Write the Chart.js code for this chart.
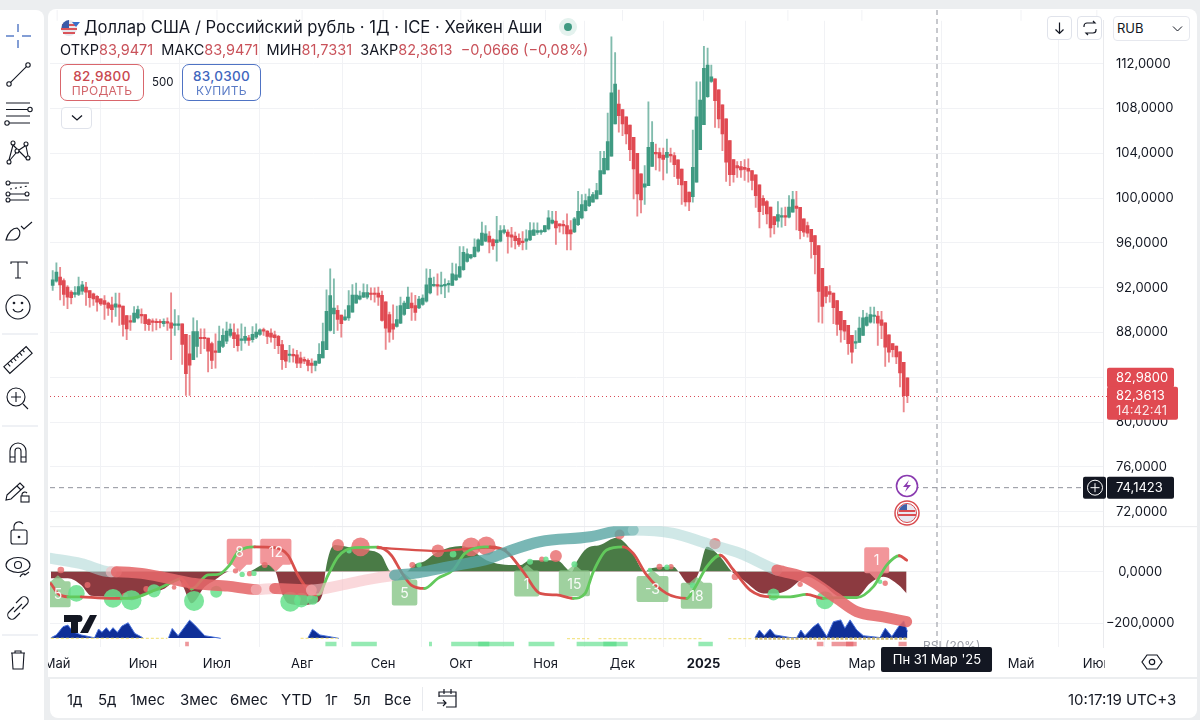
<!DOCTYPE html>
<html>
<head>
<meta charset="utf-8">
<title>USD/RUB</title>
<script src="https://cdn.jsdelivr.net/npm/chart.js"></script>
<style>
    html, body { margin: 0; padding: 0; width: 1200px; height: 720px; overflow: hidden; background: #eceef0; font-family: Inter, "Noto Sans", sans-serif; color: #131722; }
    .t { position: absolute; white-space: nowrap; line-height: 1; }
    .box { position: absolute; box-sizing: border-box; background: #fff; }
    .red { color: #c9525a; }
    #myChart { position: absolute; left: 0; top: 0; z-index: 1; }
    .over { z-index: 3; }
    .btn { position: absolute; box-sizing: border-box; border-radius: 7px; background: #fff; text-align: center; z-index: 3; }
    .btn b { display: block; font-weight: 500; font-size: 13.5px; line-height: 14px; margin-top: 4px; letter-spacing: .3px; }
    .btn span { display: block; font-size: 12px; line-height: 12px; margin-top: 2px; letter-spacing: .3px; opacity: .85; }
    .rng { top: 692px; font-size: 15px; z-index: 3; }
</style>
</head>
<body>
<div class="box" style="left:48px;top:9px;width:1149px;height:668px;border-radius:8px 8px 0 0"></div>
<div class="box" style="left:50px;top:679px;width:1147px;height:39px;border-radius:0 0 8px 8px"></div>
<canvas id="myChart" width="1200" height="720"></canvas>

<!-- strip left of the chart + drawing toolbar -->
<div class="box over" style="left:44px;top:0;width:3.5px;height:678px;background:#eceef0"></div>
<div class="box over" style="left:0;top:10px;width:44px;height:710px;border-radius:0 8px 0 0"></div>
<svg class="over" style="position:absolute;left:0;top:0" width="44" height="720" fill="none" stroke="#131722" stroke-width="1.1">
    <g stroke="#5b7fc7" stroke-width="1.5"><path d="M18 24v8M18 40v8M6 36h8M22 36h9"/></g>
    <circle cx="9" cy="84" r="2.2"/><circle cx="28" cy="65" r="2.2"/><path d="M10.6 82.4 26.4 66.6"/>
    <path d="M6 103h24M6 109.5h22M6 116h24M9 123h21"/><circle cx="30" cy="109.5" r="2.2"/><circle cx="7" cy="123" r="2.2"/>
    <circle cx="13" cy="143" r="2"/><circle cx="26" cy="144" r="2"/><circle cx="17" cy="151" r="2"/><circle cx="9" cy="162" r="2"/><circle cx="28" cy="158" r="2"/>
    <path d="M13 145 9 160M13 145 17 149M19 151 26 158M25 146 19 150M26 146 28 156M10 160 16 153"/>
    <circle cx="8" cy="183" r="2"/><circle cx="8" cy="194" r="2"/><circle cx="8" cy="200" r="2"/><circle cx="27" cy="194" r="2"/>
    <path d="M10 183h19M10 194h15M10 200h19"/><path d="M10 189 28 186" stroke-dasharray="2 3"/>
    <path d="M6 240C8 232 13 228 17 228C22 231 20 239 14 240ZM21 226l3 3 8-7"/>
    <path d="M11 264v-2h16v2M18 262v16M15 278h6"/>
    <circle cx="18" cy="307" r="12"/><path d="M13 309c2 4 8 4 10 0"/><circle cx="14" cy="303" r=".8"/><circle cx="22" cy="303" r=".8"/>
    <path d="M2 334h36M2 426h36M2 635h36" stroke="#e0e3eb"/>
    <g transform="rotate(-42 18 360)"><rect x="3" y="355.5" width="30" height="9"/><path d="M8 355.5v4M12 355.5v3M16 355.5v4M20 355.5v3M24 355.5v4M28 355.5v3"/></g>
    <circle cx="16" cy="397" r="9"/><path d="M16 392v10M11 397h10M23 404l5 5"/>
    <path d="M10 462v-11a8 8 0 0 1 16 0v11h-5v-11a3 3 0 0 0-6 0v11zM10 457h5M21 457h5"/>
    <path d="M7 495 20 483l4 4-13 12-5 1zM17 486l4 4"/><rect x="21" y="496" width="8" height="6"/><path d="M22 496v-2a3 3 0 0 1 5-1"/>
    <rect x="11" y="530" width="16" height="14" rx="2"/><path d="M14 530v-4a5 5 0 0 1 9-2"/><circle cx="19" cy="537" r=".8"/>
    <ellipse cx="18" cy="565" rx="12" ry="7.5"/><circle cx="18" cy="565" r="3.5"/><path d="M20 577c1-3 4-4 5-2l4-3"/>
    <path d="M16 603l5-5a4 4 0 0 1 6 6l-5 5M20 613l-5 5a4 4 0 0 1-6-6l5-5M14 612l8-8"/>
    <path d="M11 653h14M15 653v-2h6v2M12 653l1 16h10l1-16"/>
</svg>

<!-- header -->
<svg class="over" style="position:absolute;left:60px;top:19px" width="22" height="18">
    <circle cx="9" cy="9" r="8" fill="#e8e8ee"/><path d="M2 6h14M1 10h16M3 14h12" stroke="#d9545a" stroke-width="2"/><path d="M1.5 9A8 8 0 0 1 9 1v8z" fill="#3a5aa8"/><path d="M12 3h8l-4 5z" fill="#3a6fc9"/>
</svg>
<div class="t over" style="left:84px;top:19px;font-size:16.6px">Доллар США / Российский рубль · 1Д · ICE · Хейкен Аши</div>
<svg class="over" style="position:absolute;left:558px;top:17px" width="20" height="20"><circle cx="10" cy="10" r="9" fill="#e4f2ee"/><circle cx="10" cy="10" r="4" fill="#3f9a82"/></svg>
<div class="t over" style="left:60px;top:43px;font-size:14.5px">ОТКР<span class="red">83,9471</span>&nbsp; МАКС<span class="red">83,9471</span>&nbsp; МИН<span class="red">81,7331</span>&nbsp; ЗАКР<span class="red">82,3613</span>&nbsp; <span class="red">−0,0666 (−0,08%)</span></div>
<div class="btn" style="left:60px;top:64px;width:84px;height:37px;border:1px solid #d9666c;color:#c9484f"><b>82,9800</b><span>ПРОДАТЬ</span></div>
<div class="t over" style="left:152px;top:77px;font-size:11.5px">500</div>
<div class="btn" style="left:182px;top:64px;width:79px;height:37px;border:1px solid #4f73c4;color:#3f66bd"><b>83,0300</b><span>КУПИТЬ</span></div>
<div class="btn" style="left:61px;top:107px;width:31px;height:22px;border:1px solid #e0e3eb;border-radius:4px"></div>
<svg class="over" style="position:absolute;left:70px;top:114px" width="14" height="8" fill="none" stroke="#131722" stroke-width="1.3"><path d="M2 1.5 7 6l5-4.5"/></svg>

<!-- top right buttons -->
<div class="btn" style="left:1047px;top:16px;width:25px;height:24px;border:1px solid #e0e3eb;border-radius:4px"></div>
<div class="btn" style="left:1077px;top:16px;width:25px;height:24px;border:1px solid #e0e3eb;border-radius:4px"></div>
<svg class="over" style="position:absolute;left:1047px;top:16px" width="56" height="24" fill="none" stroke="#131722" stroke-width="1.2"><path d="M12.5 6.5v11M8.5 13.5l4 4 4-4"/><path d="M37 10a3 3 0 0 1 3-3h8l-2-2M49 14a3 3 0 0 1-3 3h-7l2 2M37 10v1M49 14v-1"/></svg>
<div class="btn" style="left:1113px;top:16px;width:77px;height:25px;border:1px solid #e6e8ee;border-radius:4px"></div>
<div class="t over" style="left:1117px;top:22px;font-size:13px">RUB</div>
<svg class="over" style="position:absolute;left:1172px;top:25px" width="12" height="8" fill="none" stroke="#131722"><path d="M1 1.5 5.5 6 10 1.5"/></svg>

<!-- tv logo -->
<svg class="over" style="position:absolute;left:64px;top:615px" width="33" height="18" fill="#131722"><path d="M0 0h14v18H7V7H0zM26 0h7L24 18h-8zM15 0a3.5 3.5 0 1 1 0 7 3.5 3.5 0 0 1 0-7z"/></svg>

<!-- event markers -->
<svg class="over" style="position:absolute;left:893px;top:474px" width="28" height="54" fill="none">
    <circle cx="14" cy="12" r="10.5" fill="#fff" stroke="#8a3bb0" stroke-width="1.6"/><path d="M16 6l-6 7h4l-2 5 6-7h-4z" fill="#8a3bb0"/>
    <circle cx="14" cy="39" r="12" fill="#fff" stroke="#d94c50" stroke-width="1.5"/><circle cx="14" cy="39" r="9.5" fill="#e9e9f0" stroke="#d94c50"/><path d="M6 37h16M5 41h18" stroke="#d94c50" stroke-width="1.8"/><path d="M14 30a9 9 0 0 0-8 6h8z" fill="#4060a8"/>
</svg>

<!-- time axis corner + bottom bar -->
<div class="box over" style="left:1105px;top:648px;width:92px;height:29px"></div>
<svg class="over" style="position:absolute;left:1141px;top:652px" width="22" height="20" fill="none" stroke="#131722" stroke-width="1.2"><path d="M6 3h10l5 7-5 7H6l-5-7z"/><circle cx="11" cy="10" r="2.7"/></svg>
<div class="t rng" style="left:67px">1д</div>
<div class="t rng" style="left:98px">5д</div>
<div class="t rng" style="left:130px">1мес</div>
<div class="t rng" style="left:180px">3мес</div>
<div class="t rng" style="left:230px">6мес</div>
<div class="t rng" style="left:281px">YTD</div>
<div class="t rng" style="left:325px">1г</div>
<div class="t rng" style="left:353px">5л</div>
<div class="t rng" style="left:384px">Все</div>
<div class="box over" style="left:422px;top:687px;width:1px;height:24px;background:#e8eaee"></div>
<svg class="over" style="position:absolute;left:436px;top:687px" width="24" height="24" fill="none" stroke="#131722" stroke-width="1.2"><path d="M3 10V5h17v15h-10M3 9h17M8 2v5M15 2v5M1 16h9M7 13l3 3-3 3"/></svg>
<div class="t rng" style="left:1068px;font-size:15px">10:17:19 UTC+3</div>

<script>
// 232 daily Heikin Ashi candles
const openPrices = [
    92.20,92.58,92.94,92.64,92.05,91.60,91.39,91.39,91.69,92.05,
    91.75,91.45,91.22,91.01,90.86,90.62,90.47,90.26,90.47,90.35,
    89.52,88.99,88.93,89.31,89.61,89.61,89.16,88.99,88.99,88.99,
    88.78,88.93,88.87,88.63,88.63,88.78,87.83,86.10,85.57,86.76,
    87.53,87.53,87.50,87.00,86.31,86.22,86.76,87.23,87.74,88.00,
    87.80,87.29,87.29,87.53,87.35,87.59,87.83,88.24,88.12,87.94,
    87.80,87.65,86.93,86.40,85.95,86.01,86.01,85.74,85.60,85.51,
    85.27,85.06,85.27,85.74,86.46,88.18,89.67,89.97,89.55,89.13,
    89.31,89.82,90.62,90.98,91.16,91.16,91.51,91.51,91.51,91.31,
    90.74,89.61,88.78,88.54,88.84,89.61,90.12,90.62,90.41,90.20,
    90.50,90.80,91.54,92.17,92.26,92.11,92.17,92.26,92.20,92.70,
    92.94,93.60,94.34,94.67,94.78,95.26,95.80,96.15,96.60,96.30,
    96.03,96.15,96.93,96.96,96.72,96.60,96.42,96.12,96.15,96.27,
    96.66,96.93,96.96,97.00,97.25,97.76,97.94,97.70,97.64,97.55,
    97.16,96.98,97.64,98.23,98.89,99.33,99.63,99.93,100.32,102.16,
    102.52,103.74,106.62,108.40,107.90,107.27,106.53,105.43,104.00,102.16,
    100.97,101.12,102.84,104.09,104.06,103.85,103.64,103.88,103.79,103.41,
    102.60,101.50,100.55,100.14,101.42,104.33,106.56,109.06,110.43,110.66,
    109.68,108.34,107.07,105.13,103.44,102.90,102.81,102.75,102.67,102.46,
    102.07,101.18,99.99,99.69,99.19,98.35,97.94,98.30,98.41,98.30,
    98.74,99.30,99.18,98.14,97.55,97.22,96.66,95.77,93.74,92.11,
    91.66,91.51,90.86,89.88,89.08,88.63,87.74,87.05,87.11,87.74,
    88.63,88.93,89.43,89.46,89.13,88.87,87.80,87.00,86.79,86.28,
    85.33,83.95
];
const highPrices = [
    93.53,94.22,93.83,92.79,92.20,91.75,92.11,92.94,92.58,92.49,
    91.75,91.51,91.30,91.01,91.30,90.71,91.16,91.51,91.51,90.35,
    89.52,89.52,90.32,90.35,90.12,89.61,89.22,89.22,89.22,89.16,
    89.22,89.31,91.54,90.05,89.52,88.78,87.83,87.74,89.31,89.07,
    88.33,88.33,87.50,87.14,87.89,88.57,88.33,88.93,88.78,88.78,
    88.33,88.78,88.48,87.74,88.54,88.78,88.33,88.39,88.18,88.33,
    88.12,87.74,87.29,86.40,86.85,86.55,86.40,86.25,85.80,85.66,
    85.66,85.45,87.00,88.84,91.81,93.68,92.79,90.41,89.55,90.03,
    91.75,92.29,92.41,91.69,92.35,92.29,91.99,91.99,92.05,91.69,
    90.74,89.82,90.47,90.35,91.16,90.80,92.05,91.54,91.31,91.22,
    91.37,93.68,93.65,92.94,93.24,93.39,92.79,92.64,94.19,94.13,
    95.68,95.68,95.47,94.96,96.36,96.36,97.85,97.55,97.02,96.36,
    98.38,97.55,97.55,97.16,97.40,96.96,96.81,97.02,97.16,97.82,
    97.79,97.79,97.16,97.55,98.89,98.83,98.83,97.70,97.99,98.59,
    97.99,98.29,100.61,100.31,100.37,100.82,100.52,101.33,104.18,104.18,
    107.60,114.41,113.00,109.65,107.90,107.27,106.53,105.43,104.00,102.16,
    102.90,108.61,106.83,104.83,104.48,104.48,105.28,104.48,104.06,103.41,
    102.60,101.50,100.55,106.08,110.39,110.39,113.55,113.40,111.88,110.66,
    109.68,108.34,107.07,105.13,103.44,103.26,103.29,103.44,103.50,102.46,
    102.07,101.18,100.23,99.78,99.19,98.35,99.69,99.13,99.19,100.23,
    100.61,100.61,99.18,98.14,97.85,97.22,96.66,95.77,93.74,92.11,
    92.20,91.51,90.86,89.88,89.08,88.63,87.74,88.18,89.37,89.97,
    89.73,90.27,90.27,89.88,89.88,88.87,87.80,87.00,86.79,86.28,
    85.33,83.95
];
const lowPrices = [
    91.75,92.49,90.92,90.41,90.12,90.56,91.16,91.30,91.39,90.41,
    90.26,90.41,89.91,90.41,89.16,89.52,88.93,89.43,88.63,87.68,
    87.35,88.18,88.93,89.22,88.84,88.18,88.18,88.12,88.24,88.42,
    88.54,88.18,85.57,87.74,88.24,85.15,82.39,82.39,85.57,85.80,
    86.10,86.55,84.47,84.76,84.82,86.22,86.64,87.00,87.59,86.64,
    86.34,86.40,87.05,86.85,87.14,87.44,87.74,87.74,87.00,87.14,
    86.55,86.10,84.70,84.85,85.36,85.36,84.85,84.85,85.21,84.56,
    84.38,84.56,85.21,85.74,86.46,88.12,87.89,88.18,87.59,89.07,
    89.07,89.82,90.62,90.92,91.10,91.00,90.92,90.71,90.41,89.02,
    86.49,87.14,87.38,88.48,88.78,89.52,90.12,89.08,89.08,90.12,
    90.41,90.71,91.45,92.11,91.34,91.45,91.10,91.60,92.20,92.64,
    92.88,93.54,94.28,94.58,94.72,95.17,95.77,96.12,95.11,95.41,
    94.37,96.09,96.81,95.08,95.62,95.47,95.68,95.38,95.41,96.21,
    96.66,96.75,96.75,96.96,97.16,97.70,95.86,96.96,96.81,95.38,
    95.38,96.92,97.55,98.14,98.83,99.24,99.63,99.93,100.32,102.16,
    102.52,103.74,106.62,105.88,105.58,104.84,103.35,99.93,98.38,98.68,
    99.43,101.12,102.84,102.52,102.40,101.62,102.22,103.20,101.92,101.21,
    99.43,99.28,98.89,99.63,101.42,104.33,106.56,109.00,110.34,106.32,
    106.26,104.24,101.50,101.12,101.42,101.86,101.86,101.57,101.42,100.73,
    99.18,97.34,98.53,97.70,96.51,96.81,97.40,97.40,97.55,98.23,
    98.74,97.16,96.36,96.57,96.51,94.64,93.24,88.93,88.84,90.65,
    90.71,88.78,87.74,87.14,87.35,86.04,85.27,86.55,87.11,87.74,
    88.57,88.84,88.84,86.85,87.44,84.97,85.36,85.81,85.21,83.13,
    80.90,81.73
];
const closePrices = [
    92.70,93.39,92.26,91.39,91.16,91.10,91.57,92.11,92.26,91.60,
    91.10,91.01,90.71,90.56,90.50,90.17,90.05,90.56,90.26,88.72,
    88.33,88.93,89.73,90.05,89.49,88.78,88.69,88.90,88.87,88.87,
    88.99,88.84,88.39,88.72,88.78,86.93,84.32,85.09,88.09,88.09,
    87.44,87.44,86.34,85.51,86.22,87.23,87.74,88.12,88.30,87.44,
    86.82,87.38,87.65,87.29,87.83,88.03,88.24,88.12,87.65,87.59,
    87.53,86.82,85.57,85.45,86.04,85.92,85.27,85.27,85.45,85.06,
    85.06,85.45,86.04,87.20,89.88,91.30,90.17,89.16,88.78,89.40,
    90.41,91.34,91.34,91.28,91.57,91.57,91.39,91.39,91.16,89.08,
    88.39,88.03,88.30,89.16,90.41,90.62,91.16,90.20,89.79,90.98,
    91.07,92.26,92.85,92.26,92.14,92.20,92.26,92.35,93.24,93.15,
    93.89,95.17,95.02,94.96,95.62,96.27,96.87,96.81,96.06,95.74,
    96.27,97.10,97.16,96.57,96.51,96.21,95.86,96.03,96.36,97.10,
    97.16,97.10,97.10,97.55,98.23,98.05,97.34,97.52,97.52,96.81,
    96.81,98.14,98.83,99.42,99.78,100.14,100.31,100.67,102.46,103.56,
    105.04,109.41,110.19,107.36,106.62,105.73,104.33,102.60,100.38,99.84,
    101.27,104.54,104.98,103.94,103.59,103.45,104.09,103.77,102.99,101.77,
    101.18,99.66,99.66,102.75,107.27,108.76,111.58,111.88,110.84,108.70,
    107.07,105.73,103.20,102.10,102.10,102.69,102.52,102.57,102.40,101.57,
    100.23,98.80,99.34,98.59,97.34,97.64,98.53,98.41,98.30,99.19,
    99.87,99.07,97.10,96.95,96.87,96.12,94.96,91.66,90.32,91.22,
    91.40,90.21,88.72,88.24,88.12,87.00,86.25,87.17,88.39,89.31,
    89.37,89.61,89.52,88.84,88.63,86.70,86.25,86.46,85.81,84.38,
    82.36,82.36
];

const priceTicks = [72, 76, 80, 84, 88, 92, 96, 100, 104, 108, 112];
const paneTicks = [-200, 0];
const monthBars = [1.2, 24.4, 44.4, 67.4, 89.3, 110.3, 133.2, 154, 175.9, 198.7, 218.7, 261.7, 282.2];
const monthLabels = ['Май', 'Июн', 'Июл', 'Авг', 'Сен', 'Окт', 'Ноя', 'Дек', '2025', 'Фев', 'Мар', 'Май', 'Июн'];

const lastPrice = 82.3613;
const crossBar = 239;
const crossPrice = 74.1423;

// lower pane: filled momentum curve
const areaBars = [-0.5,4.1,7.7,10.4,16.7,21.3,25.8,30.3,33.9,35.2,37.5,41.1,43.8,47.8,52.8,57.3,60.2,61.8,63.6,67.2,70.8,73.1,73.7,76.2,79.8,85.2,88.8,91.5,95.6,97.8,100.5,104.1,110.4,118.2,126.3,129,136.2,140.3,141.6,144.3,147.9,152.4,156,160.1,161.4,167.8,169.1,171.4,172.7,174.5,176.8,180.4,183.5,186.7,192.1,195.7,199.3,201.5,203.8,208.3,212.8,217.3,220.9,224.5,228.6,230.8];
const areaValues = [-26,-26,-52,-93,-97,-110,-84,-65,-29,-55,-122,-58,-33,0,0,27,0,-78,-122,-129,-122,-78,0,102,95,83,63,0,0,27,40,76,99,38,25,44,44,0,38,89,102,130,89,0,12,19,0,-45,-52,-7,96,57,0,-33,-84,-84,-65,-39,-20,-52,-97,-97,-45,-20,-52,-84];

// thin oscillator
const oscBars = [-0.5,1.4,4.1,7.7,12.2,18.5,23,27.6,33.4,34.6,37.5,42,44.7,47.8,50.1,54.6,60,63.6,66.3,69.5,71.7,74.4,77.1,81.6,87.9,91.5,94.2,96.9,100.5,104.1,108.2,111.4,116.8,118.2,122.7,127.2,131.7,136.2,140.7,143.9,146.1,149.7,154.2,156.9,160.5,165.9,171.4,173.2,176.8,180.4,184,188.5,193.9,199.3,203.8,208.3,212.8,217.3,221.8,225.4,228.8,230.8];
const oscValues = [-46,-84,-97,-97,-101,-103,-97,-71,-33,-26,-67,-13,-11,25,76,95,92,63,-14,-78,-90,-14,57,92,94,63,-1,-52,-65,-26,6,70,95,95,76,-1,-84,-90,-103,-84,-1,83,95,70,-13,-84,-103,-71,19,63,6,-71,-97,-97,-88,-103,-100,-100,-58,25,61,44];
const trendBars = [87.5, 104.1, 117, 122.7];
const trendValues = [92, 79, 93, 85];

// thick ribbon, state of each stretch: teal up, faded teal, red down, faded red
const ribbonBars = [-0.5,7.7,15.8,17.2,24,31.2,38.4,47.4,55,60,69.9,78,84.3,92.4,98.7,106.8,118.2,122.7,131.7,145.2,152.4,156.9,167.8,176.8,185.8,195.7,197.5,203.8,211.9,217.3,224.5,230.8];
const ribbonValues = [51,31,-1,-1,-7,-26,-46,-56,-69,-65,-71,-52,-33,-14,-5,18,51,76,115,134,156,160,147,108,70,6,0,-26,-103,-154,-174,-193];
const ribbonStates = ['tealFade','tealFade','redFade','red','red','red','red','red','redFade','red','redFade','redFade','redFade','teal','teal','teal','teal','teal','teal','teal','teal','tealFade','tealFade','tealFade','tealFade','red','red','red','red','red','red'];

// signal bubbles
const buyBars = [6.4,16.3,21.3,27.4,38.2,44.2,64.2,67.2,70.2,80.1,99,108.2,51.2,54.4,129,133.3,141,161.4,166,173,194.8,208.7,223.6];
const buyValues = [-84,-103,-110,-74,-113,-78,-116,-110,-106,80,25,67,-11,-7,38,48,28,6,17,-54,-88,-110,-39];
const buyStrength = [25,28,30,20,30,18,30,22,17,8,8,10,8,8,9,8,9,7,8,9,18,27,7];
const sellBars = [2.2,9.4,19.5,25.3,32.8,35.5,49.4,53.2,57.3,66.3,69.5,77.1,83.2,97.2,104.1,113.1,117.2,132.2,136,153.2,164,167.1,179,184.4,202,225];
const sellValues = [6,-52,-93,-67,-61,-49,3,-8,25,-106,-97,102,95,25,80,95,99,48,60,143,19,19,108,-20,-49,-45];
const sellStrength = [10,9,9,9,7,8,8,8,9,9,8,18,28,9,19,28,28,8,18,15,9,8,17,10,8,8];

// labelled flags, tip at bar/value
const flagTexts = ['8', '12', '1', '5', '5', '1', '15', '-3', '18'];
const flagBars = [50.5, 60.3, 222.7, 1.4, 95.1, 128.1, 141, 162.1, 174];
const flagValues = [-1, -1, -33, -14, -7, 27, 28, 6, -20];
const flagSides = ['sell', 'sell', 'sell', 'buy', 'buy', 'buy', 'buy', 'buy', 'buy'];

// blue volume mountains, null = gap
const massBars = [-0.5,1,2.8,4.1,5.5,7.7,11.3,12.4,13.3,14.5,15.4,16.3,17.5,18.7,20.4,22.2,24.4,30,31.3,32.3,33.9,37,38.4,41.1,45.4,55,69,70.2,72.2,77.3,150,189.8,191,192.3,193.9,195.2,199.3,201.1,202.2,203.3,205.6,206.9,209.2,211,213,214.1,215.5,217.3,219.1,223.6,225,226.8,228.6,230,231];
const massValues = [-255,-244,-212,-206,-232,-244,-255,-221,-234,-216,-232,-216,-234,-210,-197,-238,-255,null,-255,-219,-247,-187,-206,-247,-257,null,-255,-222,-244,-257,null,-254,-225,-247,-221,-244,-254,-254,-225,-247,-212,-199,-250,-193,-186,-218,-186,-225,-247,-254,-218,-250,-212,-190,-231];
const massFloor = -256;

// yellow dashes along the floor
const dashBars = [-0.5, 31, 40, 67, 77, 100, 139, 145, 146, 147.5, 175.4, 178, 182.6, 189.4];
const dashValues = [-257, -257, null, -257, -257, null, -258, -258, null, -258, -258, null, -258, -258];
const tanBars = [189.8, 231];
const tanValues = [-258, -258];

// state strip under the pane, from/to bar
const stripLevel = -279;
const greenRuns = [[73.7, 76.7], [80.7, 87.6], [101.7, 102.5], [107.7, 124.7], [128.6, 135.6], [141.6, 155.4], [174.5, 178.4]];
const darkGreenRuns = [[115, 118], [148.8, 152.4]];
const redRuns = [[35.8, 36.8], [206.5, 208.3], [210.5, 217.3], [228.6, 230.8]];
const darkRedRuns = [[214.4, 216.4]];

const upColor = '#3f9a82';
const downColor = '#e04a52';
const upWick = 'rgba(63,154,130,.66)';
const downWick = 'rgba(224,74,82,.66)';
const gridColor = '#f1f2f5';
const ribbonColors = {
    teal: 'rgba(88,165,162,.8)',
    tealFade: 'rgba(170,214,212,.55)',
    red: 'rgba(229,104,106,.88)',
    redFade: 'rgba(246,190,195,.6)'
};

function points(xs, ys) {
    return xs.map((x, i) => ({ x: x, y: ys[i] }));
}

const bars = openPrices.map((o, i) => i);
const wicks = bars.map(i => ({ x: i, y: [lowPrices[i], highPrices[i]] }));
const bodies = bars.map(i => ({ x: i, y: [openPrices[i], closePrices[i]] }));
const isUp = i => closePrices[i] >= openPrices[i];

function stripOf(runs) {
    const out = [];
    runs.forEach(r => {
        out.push({ x: r[0], y: stripLevel }, { x: r[1], y: stripLevel }, { x: r[1] + 0.1, y: null });
    });
    return out;
}

function stripSet(label, runs, color) {
    return { type: 'line', label: label, yAxisID: 'yPane', order: 7, data: stripOf(runs), borderColor: color, borderWidth: 4.5, borderCapStyle: 'butt', pointRadius: 0 };
}

function fmt(v) {
    return v.toFixed(4).replace('.', ',').replace('-', '−');
}

function badge(ctx, x, y, w, h, color, r) {
    ctx.fillStyle = color;
    ctx.beginPath();
    ctx.roundRect(x, y, w, h, r);
    ctx.fill();
}

// flag box geometry, boxes go under the curves and the numbers over them
function flagBox(chart, i, ctx) {
    const px = chart.scales.x.getPixelForValue(flagBars[i]);
    const py = chart.scales.yPane.getPixelForValue(flagValues[i]);
    const w = Math.max(25, ctx.measureText(flagTexts[i]).width + 17);
    const h = 26;
    const sell = flagSides[i] === 'sell';
    return { px: px, py: py, w: w, h: h, sell: sell, top: sell ? py - 7 - h : py + 6 };
}

function clipPane(chart, ctx) {
    const a = chart.chartArea;
    const ys = chart.scales.yPane;
    ctx.beginPath();
    ctx.rect(a.left, ys.top, a.width, ys.height);
    ctx.clip();
    ctx.font = '14px Inter';
    ctx.textAlign = 'center';
    ctx.textBaseline = 'middle';
}

function drawFlags(chart) {
    const ctx = chart.ctx;
    ctx.save();
    clipPane(chart, ctx);
    flagTexts.forEach((t, i) => {
        const b = flagBox(chart, i, ctx);
        const edge = b.sell ? b.top + b.h : b.top;
        ctx.fillStyle = b.sell ? 'rgba(240,135,140,.88)' : 'rgba(132,196,132,.78)';
        ctx.beginPath();
        ctx.roundRect(b.px - b.w / 2, b.top, b.w, b.h, 2);
        ctx.moveTo(b.px - 7, edge);
        ctx.lineTo(b.px, b.py);
        ctx.lineTo(b.px + 7, edge);
        ctx.closePath();
        ctx.fill();
    });
    ctx.restore();
}

const overlays = {
    id: 'overlays',
    beforeDatasetsDraw(chart) {
        const ctx = chart.ctx;
        const a = chart.chartArea;
        const ys = chart.scales.yPane;
        ctx.save();
        ctx.strokeStyle = '#e9eaed';
        ctx.beginPath();
        ctx.moveTo(a.left, ys.top + 0.5);
        ctx.lineTo(1197, ys.top + 0.5);
        ctx.stroke();
        // layout keeps the scales below y=20, carry the grid up to the panel edge
        ctx.strokeStyle = gridColor;
        ctx.beginPath();
        monthBars.forEach(b => {
            const px = chart.scales.x.getPixelForValue(b);
            ctx.moveTo(px, 10);
            ctx.lineTo(px, a.top);
        });
        ctx.stroke();
        ctx.restore();
    },
    afterDatasetDraw(chart, args) {
        if (chart.data.datasets[args.index].label === 'momentum') drawFlags(chart);
    },
    afterDatasetsDraw(chart) {
        const ctx = chart.ctx;
        ctx.save();
        clipPane(chart, ctx);
        ctx.fillStyle = 'rgba(255,255,255,.92)';
        flagTexts.forEach((t, i) => {
            const b = flagBox(chart, i, ctx);
            ctx.fillText(t, b.px, b.top + b.h / 2 + 1);
        });
        ctx.restore();
    },
    afterDraw(chart) {
        const ctx = chart.ctx;
        const a = chart.chartArea;
        const xs = chart.scales.x;
        const ys = chart.scales.y;
        const lastY = ys.getPixelForValue(lastPrice);
        const crossX = xs.getPixelForValue(crossBar);
        const crossY = ys.getPixelForValue(crossPrice);
        ctx.save();

        // last price line
        ctx.strokeStyle = '#d94a55';
        ctx.setLineDash([1, 3]);
        ctx.beginPath();
        ctx.moveTo(a.left, Math.round(lastY) + 0.5);
        ctx.lineTo(a.right + 4, Math.round(lastY) + 0.5);
        ctx.stroke();

        // crosshair
        ctx.strokeStyle = '#8f929b';
        ctx.setLineDash([5, 4]);
        ctx.beginPath();
        ctx.moveTo(crossX, 10);
        ctx.lineTo(crossX, a.bottom);
        ctx.moveTo(a.left, crossY);
        ctx.lineTo(1084, crossY);
        ctx.stroke();
        ctx.setLineDash([]);

        // faded pane title, partly under the date label
        ctx.font = '12px Inter';
        ctx.fillStyle = '#9a9da6';
        ctx.textBaseline = 'middle';
        ctx.textAlign = 'left';
        ctx.fillText('RSI (20%)', crossX - 14, a.bottom - 1);

        // price badges on the right
        badge(ctx, 1107, lastY - 28, 67, 20, downColor, 2);
        badge(ctx, 1107, lastY - 9, 71, 33, downColor, 2);
        ctx.fillStyle = '#fff';
        ctx.font = '13px Inter';
        ctx.fillText(fmt(82.98), 1116, lastY - 18);
        ctx.fillText(fmt(lastPrice), 1116, lastY);
        ctx.fillStyle = 'rgba(255,255,255,.85)';
        ctx.fillText('14:42:41', 1116, lastY + 15);

        // crosshair price
        badge(ctx, 1083, crossY - 11, 23, 22, '#131722', 2);
        badge(ctx, 1107, crossY - 11, 67, 22, '#131722', 2);
        ctx.fillStyle = '#fff';
        ctx.fillText(fmt(crossPrice), 1116, crossY + 0.5);
        ctx.strokeStyle = '#fff';
        ctx.beginPath();
        ctx.arc(1095, crossY, 7.5, 0, Math.PI * 2);
        ctx.moveTo(1095, crossY - 4.5);
        ctx.lineTo(1095, crossY + 4.5);
        ctx.moveTo(1090.5, crossY);
        ctx.lineTo(1099.5, crossY);
        ctx.stroke();

        // crosshair date
        badge(ctx, crossX - 56, a.bottom, 111, 25, '#131722', 2);
        ctx.fillStyle = '#fff';
        ctx.textAlign = 'center';
        ctx.fillText('Пн 31 Мар \'25', crossX, a.bottom + 13);
        ctx.restore();
    }
};

const ctx = document.getElementById('myChart').getContext('2d');
const myChart = new Chart(ctx, {
    type: 'bar',
    plugins: [overlays],
    data: {
        datasets: [
            { type: 'line', label: 'ribbon', yAxisID: 'yPane', order: 1, data: points(ribbonBars, ribbonValues), borderWidth: 11, borderCapStyle: 'round', borderJoinStyle: 'round', pointRadius: 0, cubicInterpolationMode: 'monotone',
                segment: { borderColor: c => ribbonColors[ribbonStates[c.p0DataIndex]] } },
            { type: 'line', label: 'oscillator', yAxisID: 'yPane', order: 2, data: points(oscBars, oscValues), borderWidth: 2.8, pointRadius: 0, cubicInterpolationMode: 'monotone', borderCapStyle: 'round',
                segment: { borderColor: c => c.p1.parsed.y >= c.p0.parsed.y ? '#62c95c' : '#d8504c' } },
            { type: 'line', label: 'trend', yAxisID: 'yPane', order: 2, data: points(trendBars, trendValues), borderColor: '#d8504c', borderWidth: 2.4, pointRadius: 0, tension: 0.2 },
            { type: 'bubble', label: 'buy', yAxisID: 'yPane', order: 3, data: buyBars.map((x, i) => ({ x: x, y: buyValues[i], r: buyStrength[i] / 3 })), backgroundColor: 'rgba(102,224,140,.85)', borderWidth: 0 },
            { type: 'bubble', label: 'sell', yAxisID: 'yPane', order: 3, data: sellBars.map((x, i) => ({ x: x, y: sellValues[i], r: sellStrength[i] / 3 })), backgroundColor: 'rgba(232,108,110,.82)', borderWidth: 0 },
            { type: 'line', label: 'momentum', yAxisID: 'yPane', order: 5, data: points(areaBars, areaValues), borderWidth: 0, pointRadius: 0, cubicInterpolationMode: 'monotone',
                fill: { target: { value: 0 }, above: '#4a7b46', below: '#8c3a40' } },
            { type: 'line', label: 'mass', yAxisID: 'yPane', order: 6, data: points(massBars, massValues), borderColor: '#4a73dc', borderWidth: 1, pointRadius: 0, tension: 0,
                fill: { target: { value: massFloor }, above: '#0f2f98', below: '#0f2f98' } },
            { type: 'line', label: 'dashes', yAxisID: 'yPane', order: 4, data: points(dashBars, dashValues), borderColor: '#f3e58c', borderWidth: 1.2, borderDash: [3, 2], pointRadius: 0 },
            { type: 'line', label: 'tan', yAxisID: 'yPane', order: 4, data: points(tanBars, tanValues), borderColor: '#cdbb72', borderWidth: 2.4, borderDash: [3, 1.5], pointRadius: 0 },
            stripSet('stripGreen', greenRuns, 'rgba(108,226,150,.72)'),
            stripSet('stripGreenDark', darkGreenRuns, 'rgba(70,210,120,.8)'),
            stripSet('stripRed', redRuns, 'rgba(232,112,118,.72)'),
            stripSet('stripRedDark', darkRedRuns, 'rgba(224,84,92,.8)'),
            { label: 'wicks', order: 9, data: wicks, barThickness: 1.2, grouped: false,
                backgroundColor: bars.map(i => isUp(i) ? upWick : downWick) },
            { label: 'bodies', order: 8, data: bodies, barThickness: 3, minBarLength: 1.5, grouped: false,
                backgroundColor: bars.map(i => isUp(i) ? upColor : downColor) }
        ]
    },
    options: {
        responsive: false,
        animation: false,
        events: [],
        layout: { padding: { left: 50, top: 0, right: 0, bottom: 43 } },
        plugins: { legend: { display: false }, tooltip: { enabled: false } },
        scales: {
            x: {
                type: 'linear',
                offset: false,
                min: -0.73,
                max: 283.86,
                afterBuildTicks: axis => { axis.ticks = monthBars.map(v => ({ value: v })); },
                afterFit: axis => { axis.height = 30; },
                grid: { color: gridColor, drawTicks: false },
                border: { display: false },
                ticks: {
                    autoSkip: false,
                    maxRotation: 0,
                    padding: 9,
                    color: '#131722',
                    font: c => (c.tick && c.tick.value === 175.9) ? { family: 'Inter', size: 13, weight: 'bold' } : { family: 'Inter', size: 13 },
                    callback: (v, i) => monthLabels[i]
                }
            },
            y: {
                position: 'right',
                stack: 'panes',
                stackWeight: 506,
                min: 70.707,
                max: 115.835,
                afterBuildTicks: axis => { axis.ticks = priceTicks.map(v => ({ value: v })); },
                afterFit: axis => { axis.width = 97; },
                grid: { color: gridColor, drawTicks: false },
                border: { display: true, color: '#e9eaed' },
                ticks: { padding: 13, color: '#131722', font: { family: 'Inter', size: 13 }, callback: fmt }
            },
            yPane: {
                position: 'right',
                stack: 'panes',
                stackWeight: 121,
                min: -290.4,
                max: 175,
                afterBuildTicks: axis => { axis.ticks = paneTicks.map(v => ({ value: v })); },
                afterFit: axis => { axis.width = 97; },
                grid: { color: gridColor, drawTicks: false },
                border: { display: true, color: '#e9eaed' },
                ticks: { crossAlign: 'center', color: '#131722', font: { family: 'Inter', size: 13 }, callback: fmt }
            }
        }
    }
});
</script>
</body>
</html>
